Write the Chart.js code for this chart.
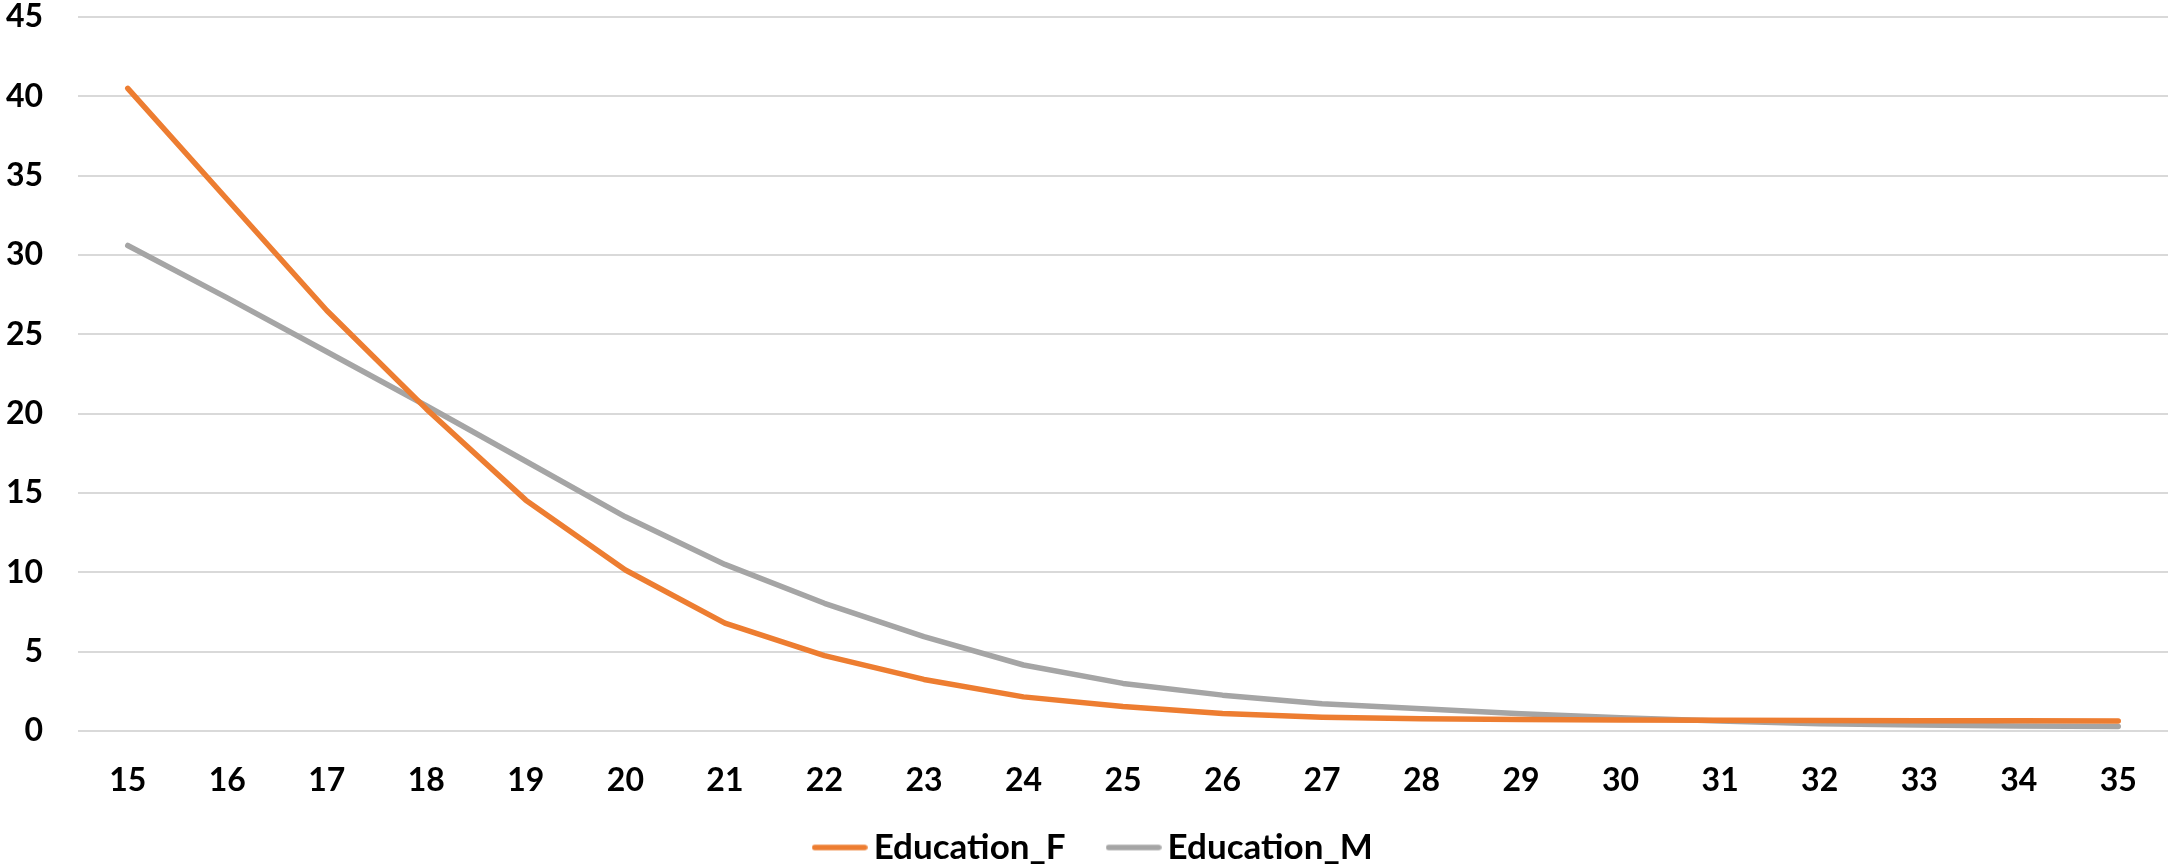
<!DOCTYPE html>
<html>
<head>
<meta charset="utf-8">
<script src="https://cdn.jsdelivr.net/npm/chart.js@4/dist/chart.umd.min.js"></script>
<style>
  html, body { margin: 0; padding: 0; background: #ffffff; }
  #wrap { width: 2168px; height: 865px; }
</style>
</head>
<body>
<div id="wrap"><canvas id="chart" width="2168" height="865"></canvas></div>
<script>
// Ages on the horizontal axis
const ages = ['15','16','17','18','19','20','21','22','23','24','25','26','27','28','29','30','31','32','33','34','35'];

// Series values per age
const educationF = [40.5, 33.5, 26.5, 20.3, 14.55, 10.15, 6.8, 4.75, 3.25, 2.15, 1.55, 1.1, 0.87, 0.77, 0.72, 0.7, 0.68, 0.66, 0.65, 0.64, 0.63];
const educationM = [30.6, 27.3, 23.9, 20.5, 17.0, 13.5, 10.5, 8.05, 5.95, 4.16, 3.0, 2.26, 1.72, 1.4, 1.09, 0.84, 0.63, 0.46, 0.38, 0.32, 0.29];

// Value axis range
const yMin = 0;
const yMax = 45;
const yStep = 5;

const COLOR_F = '#ED7D31';
const COLOR_M = '#A5A5A5';
const LINE_W = 5.5;
const FONT = "Lato, 'Open Sans', sans-serif";

// Small round-capped line used as the legend swatch of a series
function swatch(color) {
  const c = document.createElement('canvas');
  c.width = 56; c.height = 10;
  const g = c.getContext('2d');
  g.strokeStyle = color;
  g.lineWidth = LINE_W;
  g.lineCap = 'round';
  g.beginPath();
  g.moveTo(3, 5);
  g.lineTo(53, 5);
  g.stroke();
  return c;
}

// Fine placement of the legend row after the layout pass
const legendNudge = {
  id: 'legendNudge',
  afterLayout(chart) {
    const lg = chart.legend;
    if (!lg) return;
    lg.left += 14; lg.right += 14;
    lg.top = lg.bottom - 86.5;
  }
};

new Chart(document.getElementById('chart'), {
  type: 'line',
  data: {
    labels: ages,
    datasets: [
      {
        label: 'Education_F',
        data: educationF,
        borderColor: COLOR_F,
        backgroundColor: COLOR_F,
        borderWidth: LINE_W,
        borderCapStyle: 'round',
        borderJoinStyle: 'round',
        pointRadius: 0,
        pointStyle: swatch(COLOR_F),
        tension: 0
      },
      {
        label: 'Education_M',
        data: educationM,
        borderColor: COLOR_M,
        backgroundColor: COLOR_M,
        borderWidth: LINE_W,
        borderCapStyle: 'round',
        borderJoinStyle: 'round',
        pointRadius: 0,
        pointStyle: swatch(COLOR_M),
        tension: 0
      }
    ]
  },
  plugins: [legendNudge],
  options: {
    responsive: false,
    animation: false,
    layout: { padding: { top: 17, right: 0, bottom: 0, left: 0 } },
    plugins: {
      tooltip: { enabled: false },
      legend: {
        position: 'bottom',
        maxHeight: 68,
        labels: {
          usePointStyle: true,
          pointStyleWidth: 33,
          boxHeight: 6,
          padding: 51.5,
          color: '#000000',
          font: { family: FONT, size: 35, weight: 'bold' }
        }
      }
    },
    scales: {
      x: {
        type: 'category',
        offset: true,
        grid: { display: false, drawTicks: false },
        border: { display: false },
        ticks: {
          color: '#000000',
          padding: 30,
          maxRotation: 0,
          autoSkip: false,
          font: { family: FONT, size: 32, weight: 'bold' }
        },
        afterFit(scale) { scale.height = 66; }
      },
      y: {
        min: yMin,
        max: yMax,
        grid: { color: '#D9D9D9', lineWidth: 2, drawTicks: false },
        border: { display: false },
        ticks: {
          stepSize: yStep,
          color: '#000000',
          padding: 35,
          font: { family: FONT, size: 32, weight: 'bold' }
        },
        afterFit(scale) {
          scale.width = 78;
          scale.paddingTop = 0;
          scale.paddingBottom = 0;
        }
      }
    }
  }
});
</script>
</body>
</html>
